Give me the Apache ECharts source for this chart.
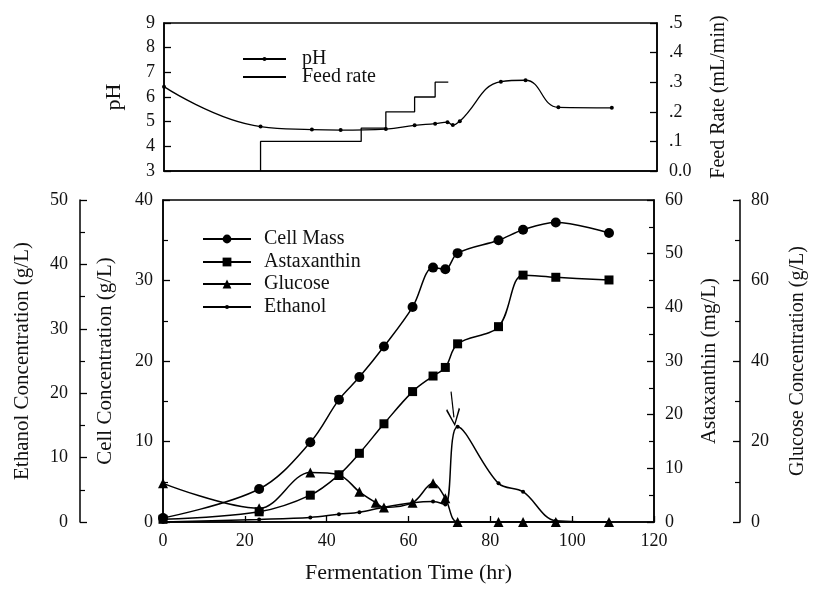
<!DOCTYPE html>
<html><head><meta charset="utf-8">
<script src="https://cdn.jsdelivr.net/npm/echarts/dist/echarts.min.js"></script>
<style>html,body{margin:0;padding:0;background:#fff}#c{width:816px;height:590px}</style>
</head><body><div id="c"></div>
<script>
// ---- data ----
const time = [0, 23.5, 36, 43, 48, 54, 61, 66, 69, 72, 82, 88, 96, 109];
const cellMass = [0.5, 4.1, 9.9, 15.2, 18.0, 21.8, 26.7, 31.6, 31.4, 33.4, 35.0, 36.3, 37.2, 35.9];
const astaxanthin = [0.5, 1.9, 5.0, 8.8, 12.8, 18.3, 24.3, 27.2, 28.8, 33.2, 36.4, 46.0, 45.6, 45.1];
const ethanol = [0.0, 0.4, 0.7, 1.2, 1.5, 2.3, 3.0, 3.2, 2.7, 14.8, 6.0, 4.7, 0.2, 0.0];
const glucoseTime = [0, 23.5, 36, 43, 48, 52, 54, 61, 66, 69, 72, 82, 88, 96, 109];
const glucose = [9.6, 3.4, 12.3, 11.7, 7.5, 4.8, 3.6, 4.8, 9.6, 5.9, 0, 0, 0, 0, 0];
const phTime = [0, 23.5, 36, 43, 54, 61, 66, 69, 70.3, 72, 82, 88, 96, 109];
const ph = [6.42, 4.8, 4.68, 4.66, 4.7, 4.85, 4.92, 4.98, 4.86, 5.02, 6.62, 6.68, 5.58, 5.56];
const feedTime = [23.5, 23.5, 48, 54, 61, 66, 69.2];
const feedRate = [0, 0.1, 0.145, 0.2, 0.25, 0.3, 0.3];
const xTicks = [0, 20, 40, 60, 80, 100, 120];
// arrow annotation (tail -> head), in hours / cell g/L
const arrowTail = [70.4, 16.2];
const arrowHead = [71.1, 13.0];

const zip = (a, b) => a.map((v, i) => [v, b[i]]);
const FONT = 'Liberation Serif';
const TXT = '#111';
const lab = (size) => ({ color: TXT, fontFamily: FONT, fontSize: size });

function yAx(o) {
  return Object.assign({
    type: 'value',
    splitLine: { show: false },
    axisLine: { show: true, lineStyle: { color: '#000', width: 1.5 } },
    axisTick: { show: true, inside: true, length: 7, lineStyle: { color: '#000', width: 1.3 } },
    axisLabel: Object.assign(lab(18), { margin: 10 }),
    nameLocation: 'middle',
    nameTextStyle: lab(21)
  }, o);
}
function leg(name, left, top, w, h, gap) {
  return { data: [name], left: left, top: top, orient: 'vertical', padding: 0,
    itemWidth: w, itemHeight: h, selectedMode: false,
    textStyle: Object.assign(lab(20), { padding: [0, 0, 0, gap] }) };
}
const minor = { show: true, splitNumber: 2, length: 5, lineStyle: { color: '#000', width: 1.2 } };

const chart = echarts.init(document.getElementById('c'), null, { renderer: 'canvas' });
const option = {
  backgroundColor: '#fff',
  animation: false,
  textStyle: { fontFamily: FONT },
  grid: [
    { left: 164, right: 159, top: 23, height: 148, show: true, borderColor: '#000', borderWidth: 1.5, backgroundColor: 'transparent' },
    { left: 163, right: 159, top: 200, height: 322, show: true, borderColor: '#000', borderWidth: 1.5, backgroundColor: 'transparent' }
  ],
  xAxis: [
    { type: 'value', gridIndex: 0, min: 0, max: 120, interval: 20,
      axisLine: { show: true, lineStyle: { color: '#000', width: 1.5 } },
      axisTick: { show: false }, axisLabel: { show: false }, splitLine: { show: false } },
    { type: 'value', gridIndex: 1, min: 0, max: 120, interval: 20,
      axisLine: { show: true, lineStyle: { color: '#000', width: 1.5 } },
      axisTick: { show: true, inside: true, length: 6, lineStyle: { color: '#000', width: 1.3 } },
      axisLabel: Object.assign(lab(18), { margin: 10, formatter: v => xTicks.includes(v) ? String(v) : '' }),
      splitLine: { show: false },
      name: 'Fermentation Time (hr)', nameLocation: 'middle', nameGap: 40, nameTextStyle: lab(22) }
  ],
  yAxis: [
    yAx({ gridIndex: 0, position: 'left', min: 3, max: 9, interval: 1,
      axisLabel: Object.assign(lab(18), { margin: 9 }),
      name: 'pH', nameGap: 39, nameTextStyle: lab(22) }),
    yAx({ gridIndex: 0, position: 'right', min: 0, max: 0.5, interval: 0.1,
      axisLabel: Object.assign(lab(18), { margin: 12, formatter: v => v === 0 ? '0.0' : '.' + Math.round(v * 10) }),
      name: 'Feed Rate (mL/min)', nameGap: 52, nameTextStyle: lab(20) }),
    yAx({ gridIndex: 1, position: 'left', min: 0, max: 40, interval: 10, minorTick: minor,
      name: 'Cell Concentration (g/L)', nameGap: 47 }),
    yAx({ gridIndex: 1, position: 'left', offset: 83, min: 0, max: 50, interval: 10, minorTick: minor,
      axisLabel: Object.assign(lab(18), { margin: 12 }),
      name: 'Ethanol Concentration (g/L)', nameGap: 47 }),
    yAx({ gridIndex: 1, position: 'right', min: 0, max: 60, interval: 10, minorTick: minor,
      axisLabel: Object.assign(lab(18), { margin: 11 }),
      name: 'Astaxanthin (mg/L)', nameGap: 45 }),
    yAx({ gridIndex: 1, position: 'right', offset: 86, min: 0, max: 80, interval: 20, minorTick: minor,
      axisLabel: Object.assign(lab(18), { margin: 11 }),
      name: 'Glucose Concentration (g/L)', nameGap: 48, nameTextStyle: lab(20) })
  ],
  legend: [
    leg('pH', 242, 49, 43, 5, 11),
    leg('Feed rate', 242, 67, 43, 1, 11),
    leg('Cell Mass', 202, 229, 48, 11, 8),
    leg('Astaxanthin', 202, 252, 48, 11, 8),
    leg('Glucose', 202, 274, 48, 11, 8),
    leg('Ethanol', 202, 297, 48, 5, 8)
  ],
  series: [
    { name: 'pH', type: 'line', xAxisIndex: 0, yAxisIndex: 0, data: zip(phTime, ph),
      smooth: 0.45, symbol: 'circle', symbolSize: 4, color: '#000',
      lineStyle: { color: '#000', width: 1.3 }, itemStyle: { color: '#000' } },
    { name: 'Feed rate', type: 'line', xAxisIndex: 0, yAxisIndex: 1, data: zip(feedTime, feedRate),
      step: 'end', symbol: 'none', color: '#000', lineStyle: { color: '#000', width: 1.3 } },
    { name: 'Cell Mass', type: 'line', xAxisIndex: 1, yAxisIndex: 2, data: zip(time, cellMass),
      smooth: 0.35, symbol: 'circle', symbolSize: 10, color: '#000',
      lineStyle: { color: '#000', width: 1.5 }, itemStyle: { color: '#000' },
      markLine: { silent: true, animation: false, label: { show: false },
        lineStyle: { color: '#000', width: 1.2, type: 'solid' },
        symbol: ['none', 'path://M5,0 L10,9 L9.2,9.8 L5,1.8 L0.8,9.8 L0,9 Z'], symbolSize: [14, 18],
        data: [[{ coord: arrowTail }, { coord: arrowHead }]] } },
    { name: 'Astaxanthin', type: 'line', xAxisIndex: 1, yAxisIndex: 4, data: zip(time, astaxanthin),
      smooth: 0.35, symbol: 'rect', symbolSize: 9, color: '#000',
      lineStyle: { color: '#000', width: 1.5 }, itemStyle: { color: '#000' } },
    { name: 'Glucose', type: 'line', xAxisIndex: 1, yAxisIndex: 5, data: zip(glucoseTime, glucose),
      smooth: 0.35, symbol: 'triangle', symbolSize: 10, color: '#000',
      lineStyle: { color: '#000', width: 1.5 }, itemStyle: { color: '#000' } },
    { name: 'Ethanol', type: 'line', xAxisIndex: 1, yAxisIndex: 3, data: zip(time, ethanol),
      smooth: 0.35, symbol: 'circle', symbolSize: 4, color: '#000',
      lineStyle: { color: '#000', width: 1.5 }, itemStyle: { color: '#000' } }
  ]
};
chart.setOption(option);
</script>
</body></html>
